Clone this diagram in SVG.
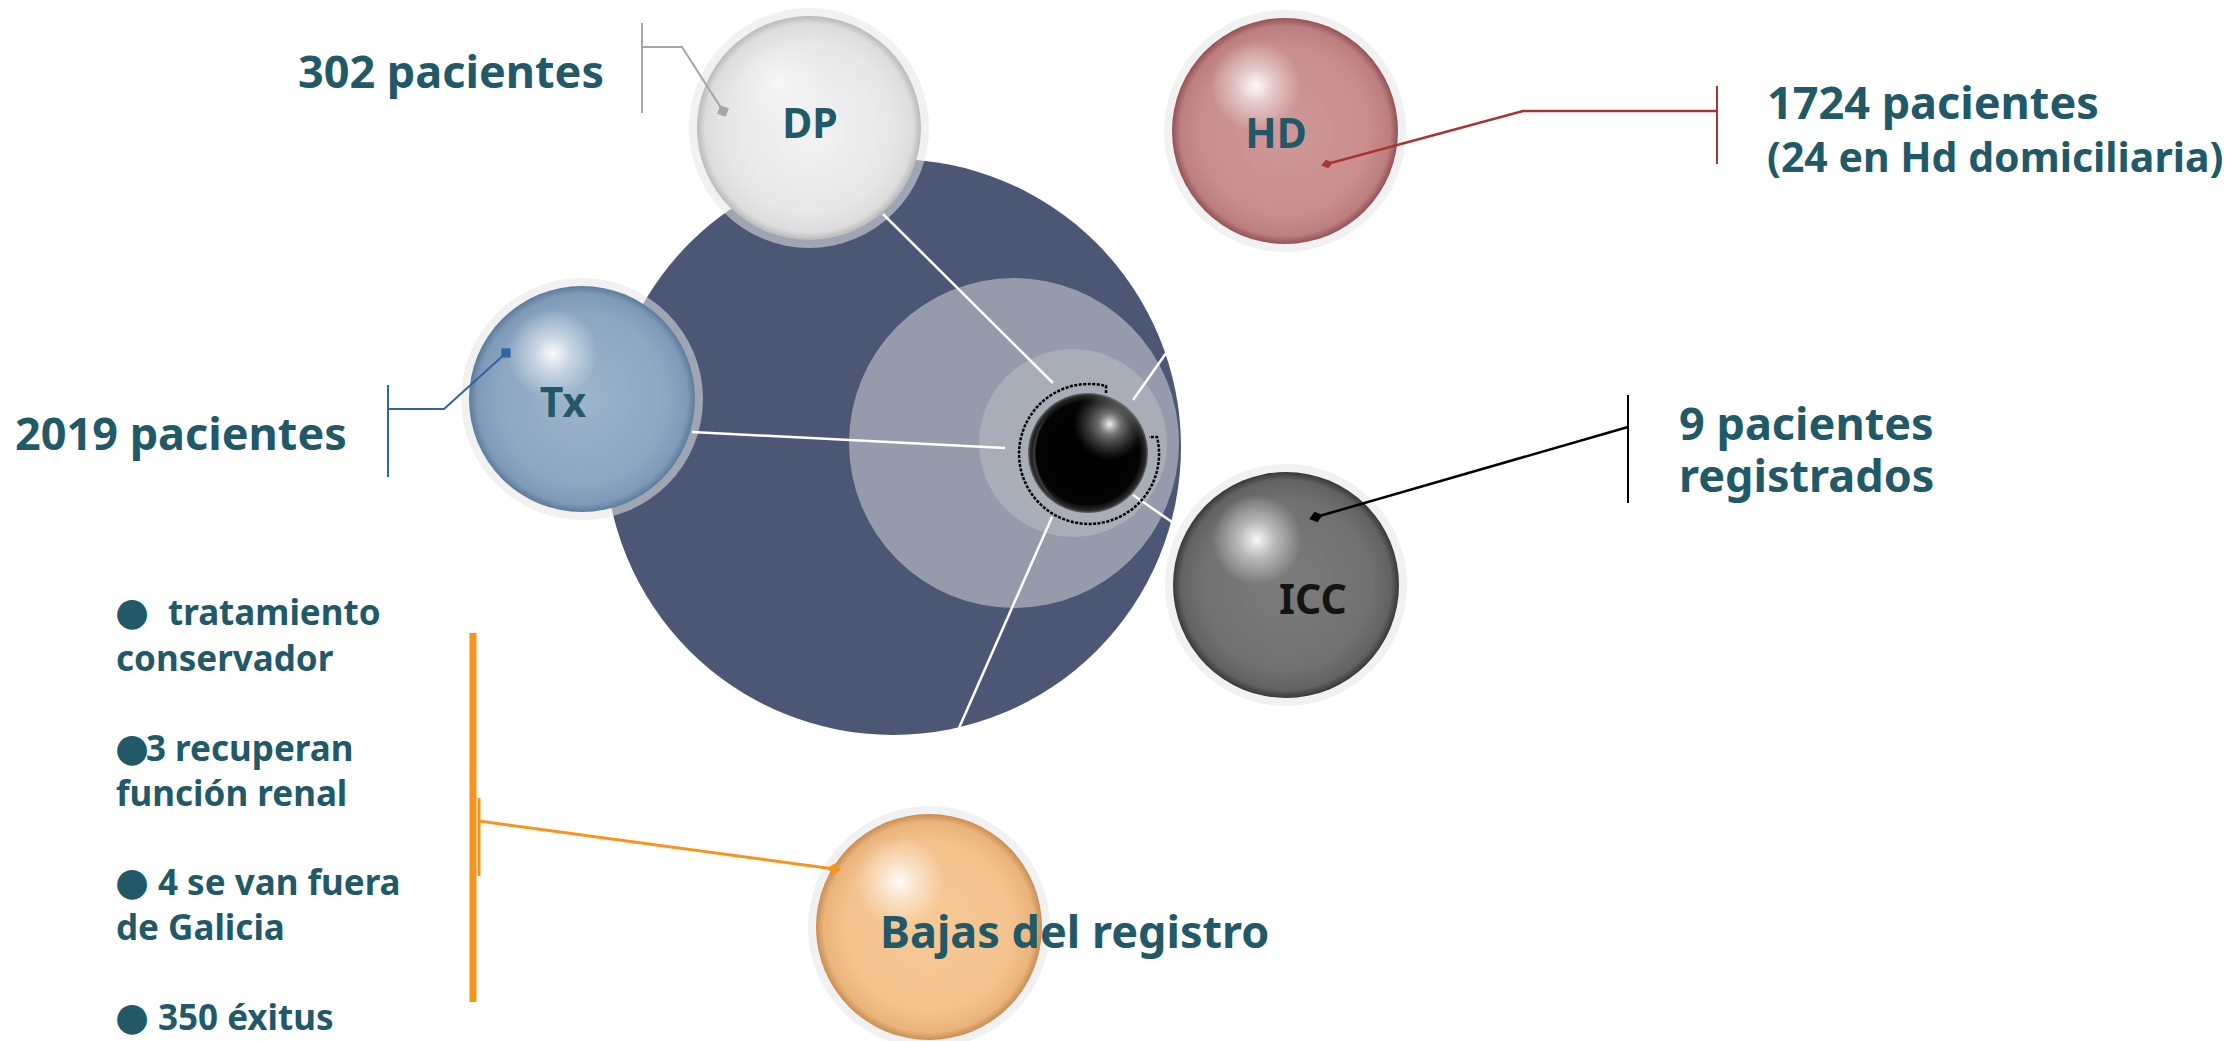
<svg xmlns="http://www.w3.org/2000/svg" width="2227" height="1041" viewBox="0 0 2227 1041">
<defs>
<style>
.t{font-family:"Noto Sans","Open Sans","DejaVu Sans",sans-serif;font-weight:700;fill:#215968}
.main{font-size:45px}
.sub{font-size:41px}
.lab{font-size:41px;text-anchor:middle}
.li{font-size:35px}
.b{font-family:"DejaVu Sans",sans-serif;font-size:39px}
.halo{fill:#E6E6E6;fill-opacity:.55}
.hl{fill:url(#hl)}
.spoke{stroke:#fff;stroke-width:2.5;fill:none}
</style>
<radialGradient id="gDP" cx=".5" cy=".5" r=".5"><stop offset="0" stop-color="#F3F3F3"/><stop offset=".75" stop-color="#E7E7E7"/><stop offset=".93" stop-color="#DCDCDC"/><stop offset="1" stop-color="#BABABA"/></radialGradient>
<radialGradient id="gTx" cx=".5" cy=".5" r=".5"><stop offset="0" stop-color="#9DB5CC"/><stop offset=".75" stop-color="#8CA7C2"/><stop offset=".93" stop-color="#7F9AB7"/><stop offset="1" stop-color="#5C7C9C"/></radialGradient>
<radialGradient id="gHD" cx=".5" cy=".5" r=".5"><stop offset="0" stop-color="#CF9898"/><stop offset=".75" stop-color="#C98D8D"/><stop offset=".93" stop-color="#BC7E7F"/><stop offset="1" stop-color="#935253"/></radialGradient>
<radialGradient id="gICC" cx=".5" cy=".5" r=".5"><stop offset="0" stop-color="#7C7C7C"/><stop offset=".75" stop-color="#717171"/><stop offset=".93" stop-color="#626262"/><stop offset="1" stop-color="#383838"/></radialGradient>
<radialGradient id="gBa" cx=".5" cy=".5" r=".5"><stop offset="0" stop-color="#F6C995"/><stop offset=".75" stop-color="#F4C28D"/><stop offset=".93" stop-color="#EAB47B"/><stop offset="1" stop-color="#C98D52"/></radialGradient>
<radialGradient id="gBk" cx=".5" cy=".5" r=".5"><stop offset="0" stop-color="#000"/><stop offset=".86" stop-color="#040404"/><stop offset=".96" stop-color="#2A2A2A"/><stop offset="1" stop-color="#6A6A6A"/></radialGradient>
<radialGradient id="hl" cx=".37" cy=".30" r=".2"><stop offset="0" stop-color="#fff" stop-opacity=".95"/><stop offset=".4" stop-color="#fff" stop-opacity=".5"/><stop offset="1" stop-color="#fff" stop-opacity="0"/></radialGradient>
<radialGradient id="hlBk" cx=".68" cy=".26" r=".3"><stop offset="0" stop-color="#fff" stop-opacity=".95"/><stop offset=".3" stop-color="#ccc" stop-opacity=".55"/><stop offset="1" stop-color="#888" stop-opacity="0"/></radialGradient>
<marker id="sqGray" viewBox="-6 -6 12 12" markerWidth="11" markerHeight="11" markerUnits="userSpaceOnUse" orient="20"><rect x="-5" y="-5" width="10" height="10" fill="#A6A6A6"/></marker>
<marker id="sqBlue" viewBox="-6 -6 12 12" markerWidth="11" markerHeight="11" markerUnits="userSpaceOnUse" orient="0"><rect x="-5" y="-5" width="10" height="10" fill="#2F65A0"/></marker>
<marker id="dmRed" viewBox="-7 -5 14 10" markerWidth="14" markerHeight="10" markerUnits="userSpaceOnUse" orient="auto"><path d="M-6 0L0-4.5L6 0L0 4.5Z" fill="#A83434"/></marker>
<marker id="dmBlack" viewBox="-8 -6 16 12" markerWidth="16" markerHeight="12" markerUnits="userSpaceOnUse" orient="auto"><path d="M-7 0L0-5.5L7 0L0 5.5Z" fill="#000"/></marker>
<marker id="dmOrange" viewBox="-8 -6 16 12" markerWidth="16" markerHeight="12" markerUnits="userSpaceOnUse" orient="auto"><path d="M-7 0L0-5.5L7 0L0 5.5Z" fill="#F7941D"/></marker>
</defs>
<rect width="2227" height="1041" fill="#fff"/>

<g id="node-center">
<circle cx="893" cy="447" r="288" fill="#4C5775"/>
<circle cx="1014" cy="443" r="165" fill="#959BAB"/>
<circle cx="1073" cy="443" r="94" fill="#A9ADB8"/>
</g>

<g id="node-dp">
<circle cx="809" cy="128" r="120" class="halo"/>
<circle cx="809" cy="128" r="112" fill="url(#gDP)"/>
<circle cx="809" cy="128" r="112" class="hl" opacity=".6"/>
<text x="810" y="138" class="t lab">DP</text>
<text x="604" y="88" class="t main" text-anchor="end">302 pacientes</text>
</g>

<g id="node-tx">
<circle cx="582" cy="399" r="121" class="halo"/>
<circle cx="582" cy="399" r="113" fill="url(#gTx)"/>
<circle cx="582" cy="399" r="113" class="hl"/>
<text x="563" y="417" class="t lab">Tx</text>
<text x="15" y="450" class="t main">2019 pacientes</text>
</g>

<g id="node-hd">
<circle cx="1285" cy="131" r="121" class="halo"/>
<circle cx="1285" cy="131" r="113" fill="url(#gHD)"/>
<circle cx="1285" cy="131" r="113" class="hl"/>
<text x="1276" y="148" class="t lab">HD</text>
<text x="1767" y="119" class="t main">1724 pacientes</text>
<text x="1767" y="172" class="t sub">(24 en Hd domiciliaria)</text>
</g>

<g id="node-icc">
<circle cx="1286" cy="585" r="121" class="halo"/>
<circle cx="1286" cy="585" r="113" fill="url(#gICC)"/>
<circle cx="1286" cy="585" r="113" class="hl"/>
<text x="1313" y="614" class="t lab" style="fill:#141414">ICC</text>
<text x="1679" y="440" class="t main">9 pacientes</text>
<text x="1679" y="492" class="t main">registrados</text>
</g>

<g id="node-bajas">
<circle cx="929" cy="927" r="121" class="halo"/>
<circle cx="929" cy="927" r="113" fill="url(#gBa)"/>
<circle cx="929" cy="927" r="113" class="hl"/>
<text x="880" y="948" class="t" style="font-size:45px">Bajas del registro</text>
</g>

<g id="bajas-list" class="t li">
<text x="115" y="625"><tspan class="b">●</tspan><tspan x="168">tratamiento</tspan></text>
<text x="116" y="671">conservador</text>
<text x="115" y="761"><tspan class="b">●</tspan><tspan x="146">3 recuperan</tspan></text>
<text x="116" y="806">función renal</text>
<text x="115" y="895"><tspan class="b">●</tspan><tspan x="158">4 se van fuera</tspan></text>
<text x="116" y="940">de Galicia</text>
<text x="115" y="1030"><tspan class="b">●</tspan><tspan x="158">350 éxitus</tspan></text>
</g>

<g id="connectors">
<line x1="883" y1="214" x2="1053" y2="383" class="spoke"/>
<line x1="692" y1="432" x2="1005" y2="448" class="spoke"/>
<line x1="1169" y1="349" x2="1133" y2="400" class="spoke"/>
<line x1="1133" y1="495" x2="1172" y2="522" class="spoke"/>
<line x1="1052" y1="517" x2="959" y2="728" class="spoke"/>

<line x1="642" y1="23" x2="642" y2="113" stroke="#A6A6A6" stroke-width="2"/>
<polyline points="642,47 682,47 723,111" fill="none" stroke="#A6A6A6" stroke-width="2" marker-end="url(#sqGray)"/>

<line x1="388" y1="385" x2="388" y2="477" stroke="#2F65A0" stroke-width="2"/>
<polyline points="388,409 444,409 506,353" fill="none" stroke="#2F65A0" stroke-width="2" marker-end="url(#sqBlue)"/>

<line x1="1717" y1="86" x2="1717" y2="164" stroke="#A83434" stroke-width="2"/>
<polyline points="1717,111 1523,111 1327,164" fill="none" stroke="#A83434" stroke-width="2.5" marker-end="url(#dmRed)"/>

<line x1="1628" y1="395" x2="1628" y2="503" stroke="#000" stroke-width="2"/>
<line x1="1628" y1="427" x2="1316" y2="517" stroke="#000" stroke-width="2.5" marker-end="url(#dmBlack)"/>

<line x1="473" y1="633" x2="473" y2="1002" stroke="#F7941D" stroke-width="7"/>
<line x1="479" y1="798" x2="479" y2="876" stroke="#F7941D" stroke-width="3"/>
<line x1="479" y1="821" x2="834" y2="869" stroke="#F7941D" stroke-width="3" marker-end="url(#dmOrange)"/>
</g>

<g id="node-core">
<path d="M1106 393L1106 386A70 70 0 1 0 1157 437L1149 437" fill="none" stroke="#000" stroke-width="2.5" stroke-dasharray="3 1.5"/>
<circle cx="1088" cy="453" r="60" fill="url(#gBk)"/>
<path d="M1048 415A58 58 0 0 0 1062 505A64 64 0 0 1 1048 415Z" fill="#555" fill-opacity=".5"/>
<circle cx="1088" cy="453" r="60" fill="url(#hlBk)"/>
</g>
</svg>
